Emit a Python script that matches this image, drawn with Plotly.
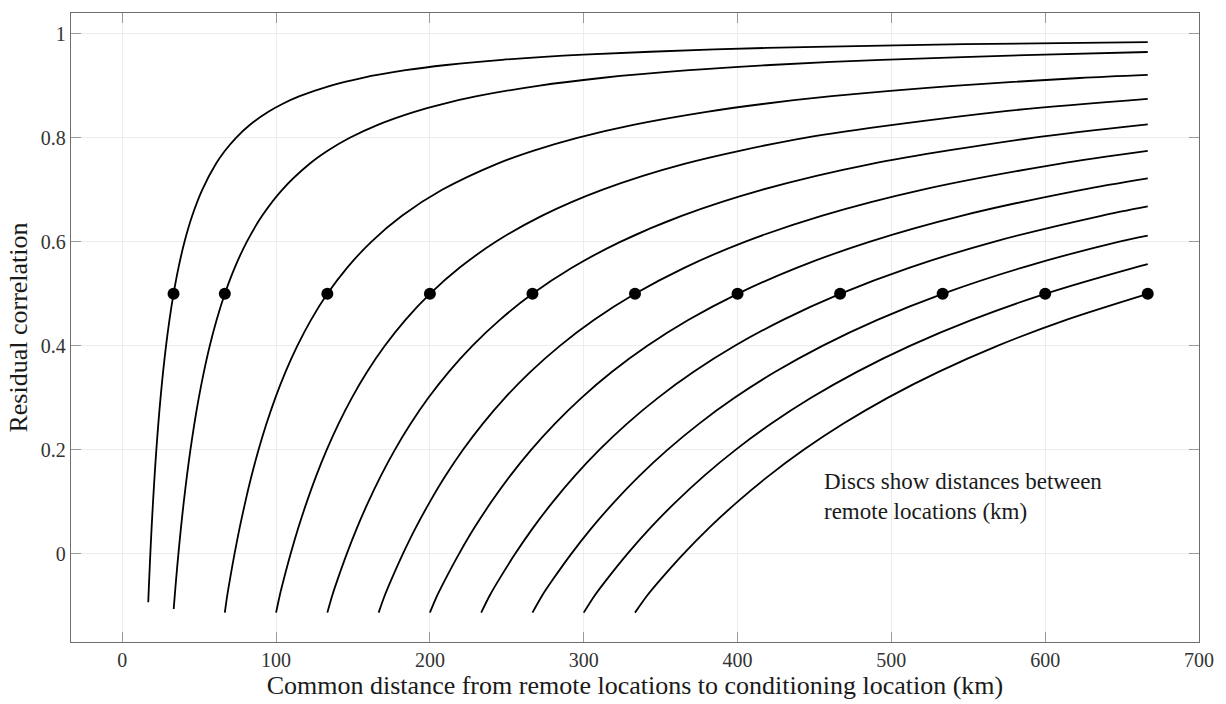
import plotly.graph_objects as go

# Distances between remote locations (km) -> disc positions
disc_x = [33.33, 66.67, 133.33, 200.0, 266.67, 333.33, 400.0, 466.67, 533.33, 600.0, 666.67]
disc_y = [0.5, 0.5, 0.5, 0.5, 0.5, 0.5, 0.5, 0.5, 0.5, 0.5, 0.5]

# Curves (x: common distance km, y: residual correlation)
c1_x = [16.89, 17.06, 17.49, 18.24, 19.07, 20.00, 21.01, 22.15, 23.43, 24.88, 26.53, 28.45, 30.68, 33.33,
        36.53, 40.47, 45.46, 51.98, 60.90, 66.75, 73.95, 83.05, 94.97, 104.08, 115.3, 135.1, 155.6, 184.2,
        210.7, 246.9, 299.8, 385.0, 451.0, 547.7, 666.67]
c1_y = [-0.093, -0.08, -0.05, 0.0, 0.05, 0.1, 0.15, 0.2, 0.25, 0.3, 0.35, 0.4, 0.45, 0.5,
        0.55, 0.6, 0.65, 0.7, 0.75, 0.775, 0.8, 0.825, 0.85, 0.865, 0.88, 0.9, 0.915, 0.93,
        0.94, 0.95, 0.96, 0.97, 0.975, 0.98, 0.984]

c2_x = [33.43, 34.13, 34.97, 36.49, 38.15, 39.99, 42.03, 44.30, 46.86, 49.75, 53.07, 56.89, 61.37, 66.67,
        73.07, 80.94, 90.91, 103.95, 121.8, 133.5, 147.9, 166.1, 189.9, 208.2, 230.6, 270.3, 311.3, 368.5,
        421.3, 493.7, 599.5, 666.67]
c2_y = [-0.106, -0.08, -0.05, 0.0, 0.05, 0.1, 0.15, 0.2, 0.25, 0.3, 0.35, 0.4, 0.45, 0.5,
        0.55, 0.6, 0.65, 0.7, 0.75, 0.775, 0.8, 0.825, 0.85, 0.865, 0.88, 0.9, 0.915, 0.93,
        0.94, 0.95, 0.96, 0.965]

c3_x = [66.67, 68.25, 69.95, 72.97, 76.29, 79.99, 84.05, 88.60, 93.72, 99.51, 106.13, 113.79, 122.73, 133.33,
        146.13, 161.88, 181.83, 207.91, 243.6, 267.0, 295.8, 332.2, 379.9, 416.3, 461.2, 540.5, 622.5, 666.67]
c3_y = [-0.113, -0.08, -0.05, 0.0, 0.05, 0.1, 0.15, 0.2, 0.25, 0.3, 0.35, 0.4, 0.45, 0.5,
        0.55, 0.6, 0.65, 0.7, 0.75, 0.775, 0.8, 0.825, 0.85, 0.865, 0.88, 0.9, 0.915, 0.921]

c4_x = [100.0, 102.38, 104.92, 109.46, 114.44, 119.98, 126.08, 132.90, 140.58, 149.26, 159.2, 170.68, 184.1, 200.0,
        219.2, 242.8, 272.7, 311.9, 365.4, 443.7, 569.8, 666.67]
c4_y = [-0.113, -0.08, -0.05, 0.0, 0.05, 0.1, 0.15, 0.2, 0.25, 0.3, 0.35, 0.4, 0.45, 0.5,
        0.55, 0.6, 0.65, 0.7, 0.75, 0.8, 0.85, 0.875]

c5_x = [133.33, 136.51, 139.89, 145.95, 152.59, 159.97, 168.11, 177.2, 187.44, 199.01, 212.27, 227.57, 245.47, 266.67,
        292.27, 323.76, 363.65, 415.81, 487.2, 591.6, 666.67]
c5_y = [-0.113, -0.08, -0.05, 0.0, 0.05, 0.1, 0.15, 0.2, 0.25, 0.3, 0.35, 0.4, 0.45, 0.5,
        0.55, 0.6, 0.65, 0.7, 0.75, 0.8, 0.826]

c6_x = [166.67, 170.63, 174.87, 182.43, 190.73, 199.97, 210.13, 221.5, 234.3, 248.77, 265.33, 284.47, 306.83, 333.33,
        365.33, 404.7, 454.57, 519.77, 609.0, 666.67]
c6_y = [-0.113, -0.08, -0.05, 0.0, 0.05, 0.1, 0.15, 0.2, 0.25, 0.3, 0.35, 0.4, 0.45, 0.5,
        0.55, 0.6, 0.65, 0.7, 0.75, 0.775]

c7_x = [200.0, 204.76, 209.84, 218.92, 228.88, 239.96, 252.16, 265.8, 281.16, 298.52, 318.4, 341.36, 368.2, 400.0,
        438.4, 485.64, 545.48, 623.72, 666.67]
c7_y = [-0.113, -0.08, -0.05, 0.0, 0.05, 0.1, 0.15, 0.2, 0.25, 0.3, 0.35, 0.4, 0.45, 0.5,
        0.55, 0.6, 0.65, 0.7, 0.722]

c8_x = [233.33, 238.89, 244.81, 255.41, 267.03, 279.95, 294.19, 310.10, 328.02, 348.27, 371.47, 398.25, 429.57, 466.67,
        511.47, 566.58, 636.40, 666.67]
c8_y = [-0.113, -0.08, -0.05, 0.0, 0.05, 0.1, 0.15, 0.2, 0.25, 0.3, 0.35, 0.4, 0.45, 0.5,
        0.55, 0.6, 0.65, 0.668]

c9_x = [266.67, 273.01, 279.79, 291.89, 305.17, 319.95, 336.21, 354.4, 374.88, 398.03, 424.53, 455.15, 490.93, 533.33,
        584.53, 647.52, 666.67]
c9_y = [-0.113, -0.08, -0.05, 0.0, 0.05, 0.1, 0.15, 0.2, 0.25, 0.3, 0.35, 0.4, 0.45, 0.5,
        0.55, 0.6, 0.612]

c10_x = [300.0, 307.14, 314.76, 328.38, 343.32, 359.94, 378.24, 398.7, 421.74, 447.78, 477.6, 512.04, 552.3, 600.0,
         657.6, 666.67]
c10_y = [-0.113, -0.08, -0.05, 0.0, 0.05, 0.1, 0.15, 0.2, 0.25, 0.3, 0.35, 0.4, 0.45, 0.5,
         0.55, 0.557]

c11_x = [333.33, 341.27, 349.73, 364.87, 381.47, 399.93, 420.27, 443.0, 468.6, 497.53, 530.67, 568.93, 613.67, 666.67]
c11_y = [-0.113, -0.08, -0.05, 0.0, 0.05, 0.1, 0.15, 0.2, 0.25, 0.3, 0.35, 0.4, 0.45, 0.5]

curves = [(c1_x, c1_y), (c2_x, c2_y), (c3_x, c3_y), (c4_x, c4_y), (c5_x, c5_y), (c6_x, c6_y),
          (c7_x, c7_y), (c8_x, c8_y), (c9_x, c9_y), (c10_x, c10_y), (c11_x, c11_y)]

x_ticks = [0, 100, 200, 300, 400, 500, 600, 700]
y_ticks = [0, 0.2, 0.4, 0.6, 0.8, 1]
y_tick_text = ["0", "0.2", "0.4", "0.6", "0.8", "1"]

FONT = "Liberation Serif"

fig = go.Figure()
for cx, cy in curves:
    fig.add_trace(go.Scatter(x=cx, y=cy, mode="lines",
                             line=dict(color="black", width=1.8, shape="spline", smoothing=0.8),
                             showlegend=False, hoverinfo="skip"))
fig.add_trace(go.Scatter(x=disc_x, y=disc_y, mode="markers",
                         marker=dict(color="black", size=12, line=dict(width=0)),
                         showlegend=False))

axis_common = dict(showline=True, linecolor="#6e6e6e", linewidth=1.3, mirror="ticks",
                   ticks="inside", ticklen=10, tickwidth=1.3, tickcolor="#9a9a9a",
                   showgrid=True, gridcolor="#ececec", gridwidth=1, zeroline=False,
                   tickfont=dict(family=FONT, size=20, color="#333333"))

fig.update_xaxes(range=[-33.33, 700], tickvals=x_ticks, **axis_common,
                 title=dict(text="Common distance from remote locations to conditioning location (km)",
                            font=dict(family=FONT, size=26, color="#1a1a1a"), standoff=3))
fig.update_yaxes(range=[-0.1695, 1.04], tickvals=y_ticks, ticktext=y_tick_text, **axis_common,
                 title=dict(text="Residual correlation",
                            font=dict(family=FONT, size=26, color="#1a1a1a"), standoff=5))

fig.add_annotation(x=455, y=0.11, xref="x", yref="y", xanchor="left", yanchor="middle",
                   align="left", showarrow=False,
                   text="Discs show distances between<br>remote locations (km)",
                   font=dict(family=FONT, size=23, color="#1a1a1a"))

fig.update_layout(width=1226, height=704, margin=dict(l=71, r=24, t=12, b=62),
                  paper_bgcolor="white", plot_bgcolor="white")

fig.write_html("out.html")
